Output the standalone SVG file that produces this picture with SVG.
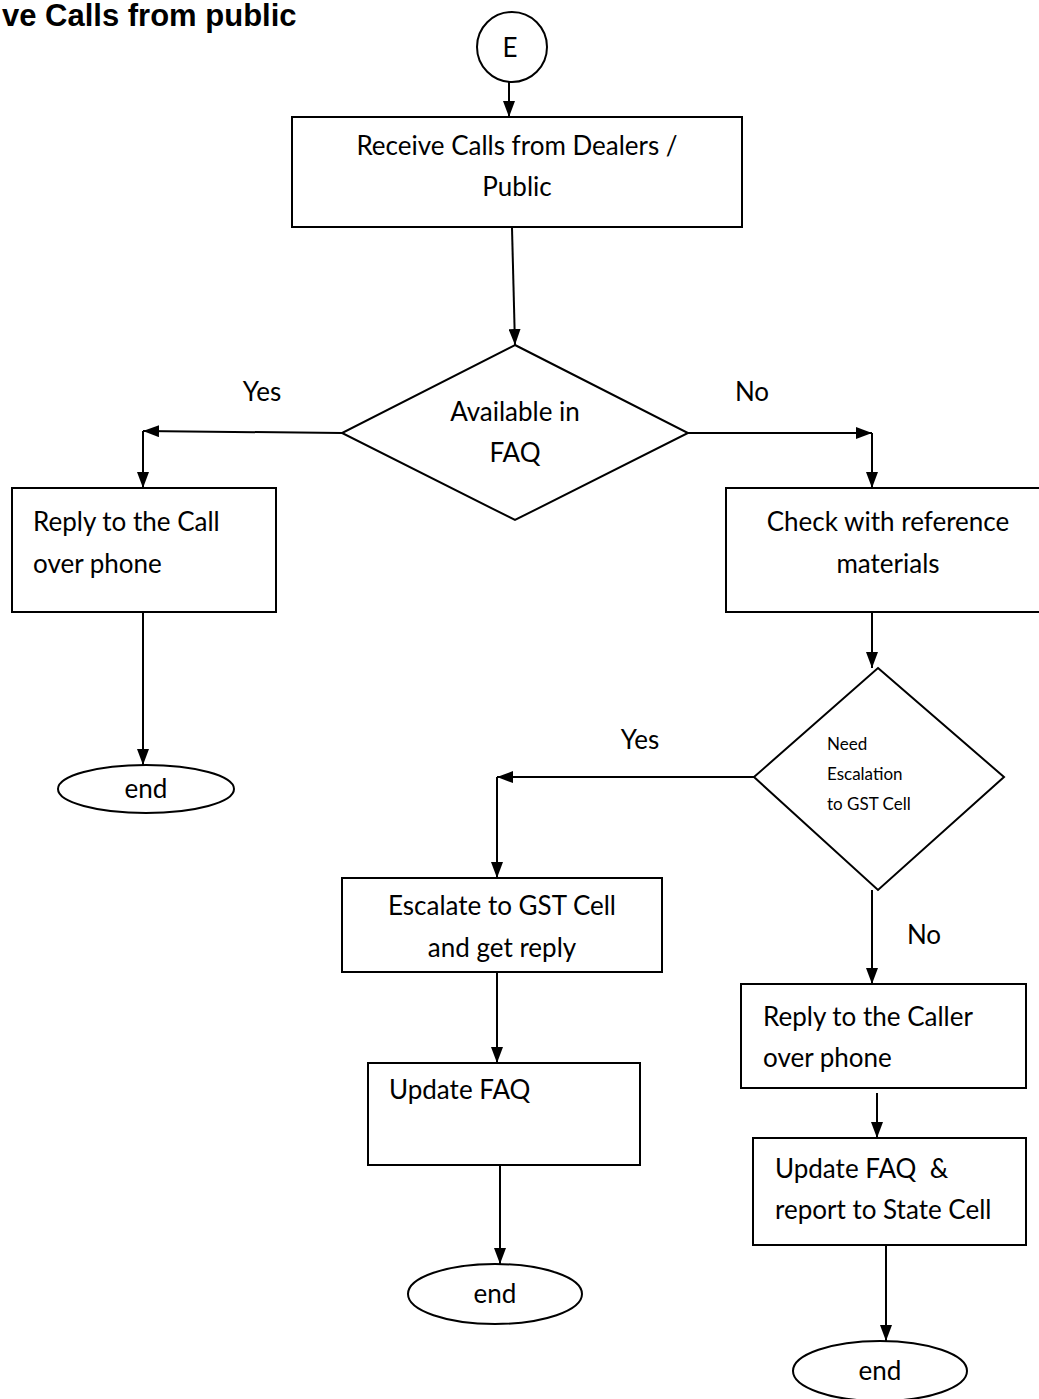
<svg xmlns="http://www.w3.org/2000/svg" width="1039" height="1399" viewBox="0 0 1039 1399">
<style>
.s{fill:#fff;stroke:#000;stroke-width:2}
.c{fill:none;stroke:#000;stroke-width:2}
.t{font-family:Lato,"Open Sans",sans-serif;font-size:26px;fill:#000}
.m{text-anchor:middle}
.sm{font-size:17px}
.title{font-family:"Liberation Sans",Arial,sans-serif;font-weight:bold;font-size:31px;fill:#000}
</style>
<defs>
<marker id="ah" markerUnits="userSpaceOnUse" markerWidth="16" markerHeight="12" viewBox="0 0 16 12" refX="16" refY="6" orient="auto">
<path d="M0,0 L16,6 L0,12 z" fill="#000"/>
</marker>
</defs>
<rect width="1039" height="1399" fill="#fff"/>
<text class="title" x="2" y="26">ve Calls from public</text>

<g id="connectors">
<line class="c" x1="509" y1="82" x2="509" y2="117" marker-end="url(#ah)"/>
<line class="c" x1="512" y1="228" x2="515" y2="345" marker-end="url(#ah)"/>
<line class="c" x1="342" y1="433" x2="143" y2="431" marker-end="url(#ah)"/>
<line class="c" x1="143" y1="431" x2="143" y2="488" marker-end="url(#ah)"/>
<line class="c" x1="688" y1="433" x2="872" y2="433" marker-end="url(#ah)"/>
<line class="c" x1="872" y1="433" x2="872" y2="488" marker-end="url(#ah)"/>
<line class="c" x1="143" y1="612" x2="143" y2="765" marker-end="url(#ah)"/>
<line class="c" x1="872" y1="612" x2="872" y2="668" marker-end="url(#ah)"/>
<line class="c" x1="754" y1="777" x2="497" y2="777" marker-end="url(#ah)"/>
<line class="c" x1="497" y1="777" x2="497" y2="878" marker-end="url(#ah)"/>
<line class="c" x1="497" y1="972" x2="497" y2="1063" marker-end="url(#ah)"/>
<line class="c" x1="500" y1="1165" x2="500" y2="1264" marker-end="url(#ah)"/>
<line class="c" x1="872" y1="890" x2="872" y2="984" marker-end="url(#ah)"/>
<line class="c" x1="877" y1="1093" x2="877" y2="1138" marker-end="url(#ah)"/>
<line class="c" x1="886" y1="1245" x2="886" y2="1341" marker-end="url(#ah)"/>
<text class="t" x="262" y="401" text-anchor="middle">Yes</text>
<text class="t" x="752" y="401" text-anchor="middle">No</text>
<text class="t" x="640" y="749" text-anchor="middle">Yes</text>
<text class="t" x="924" y="944" text-anchor="middle">No</text>
</g>

<g id="start">
<circle class="s" cx="512" cy="47" r="35"/>
<text class="t m" x="510" y="57">E</text>
</g>
<g id="receive">
<rect class="s" x="292" y="117" width="450" height="110"/>
<text class="t m" x="517" y="155">Receive Calls from Dealers /</text>
<text class="t m" x="517" y="196">Public</text>
</g>
<g id="faq-decision">
<polygon class="s" points="515,345 688,433 515,520 342,433"/>
<text class="t m" x="515" y="421">Available in</text>
<text class="t m" x="515" y="462">FAQ</text>
</g>
<g id="reply-call">
<rect class="s" x="12" y="488" width="264" height="124"/>
<text class="t" x="33" y="531">Reply to the Call</text>
<text class="t" x="33" y="573">over phone</text>
</g>
<g id="check-ref">
<rect class="s" x="726" y="488" width="330" height="124"/>
<text class="t m" x="888" y="531">Check with reference</text>
<text class="t m" x="888" y="573">materials</text>
</g>
<g id="end1">
<ellipse class="s" cx="146" cy="789" rx="88" ry="24"/>
<text class="t m" x="146" y="798">end</text>
</g>
<g id="escalation-decision">
<polygon class="s" points="878,668 1004,777 878,890 754,777"/>
<text class="t sm" x="827" y="750">Need</text>
<text class="t sm" x="827" y="780">Escalation</text>
<text class="t sm" x="827" y="810">to GST Cell</text>
</g>
<g id="escalate">
<rect class="s" x="342" y="878" width="320" height="94"/>
<text class="t m" x="502" y="915">Escalate to GST Cell</text>
<text class="t m" x="502" y="957">and get reply</text>
</g>
<g id="update-faq">
<rect class="s" x="368" y="1063" width="272" height="102"/>
<text class="t" x="389" y="1099">Update FAQ</text>
</g>
<g id="end2">
<ellipse class="s" cx="495" cy="1294" rx="87" ry="30"/>
<text class="t m" x="495" y="1303">end</text>
</g>
<g id="reply-caller">
<rect class="s" x="741" y="984" width="285" height="104"/>
<text class="t" x="763" y="1026">Reply to the Caller</text>
<text class="t" x="763" y="1067">over phone</text>
</g>
<g id="update-report">
<rect class="s" x="753" y="1138" width="273" height="107"/>
<text class="t" x="775" y="1178" style="white-space:pre">Update FAQ  &amp;</text>
<text class="t" x="775" y="1219">report to State Cell</text>
</g>
<g id="end3">
<ellipse class="s" cx="880" cy="1371" rx="87" ry="30"/>
<text class="t m" x="880" y="1380">end</text>
</g>
</svg>
